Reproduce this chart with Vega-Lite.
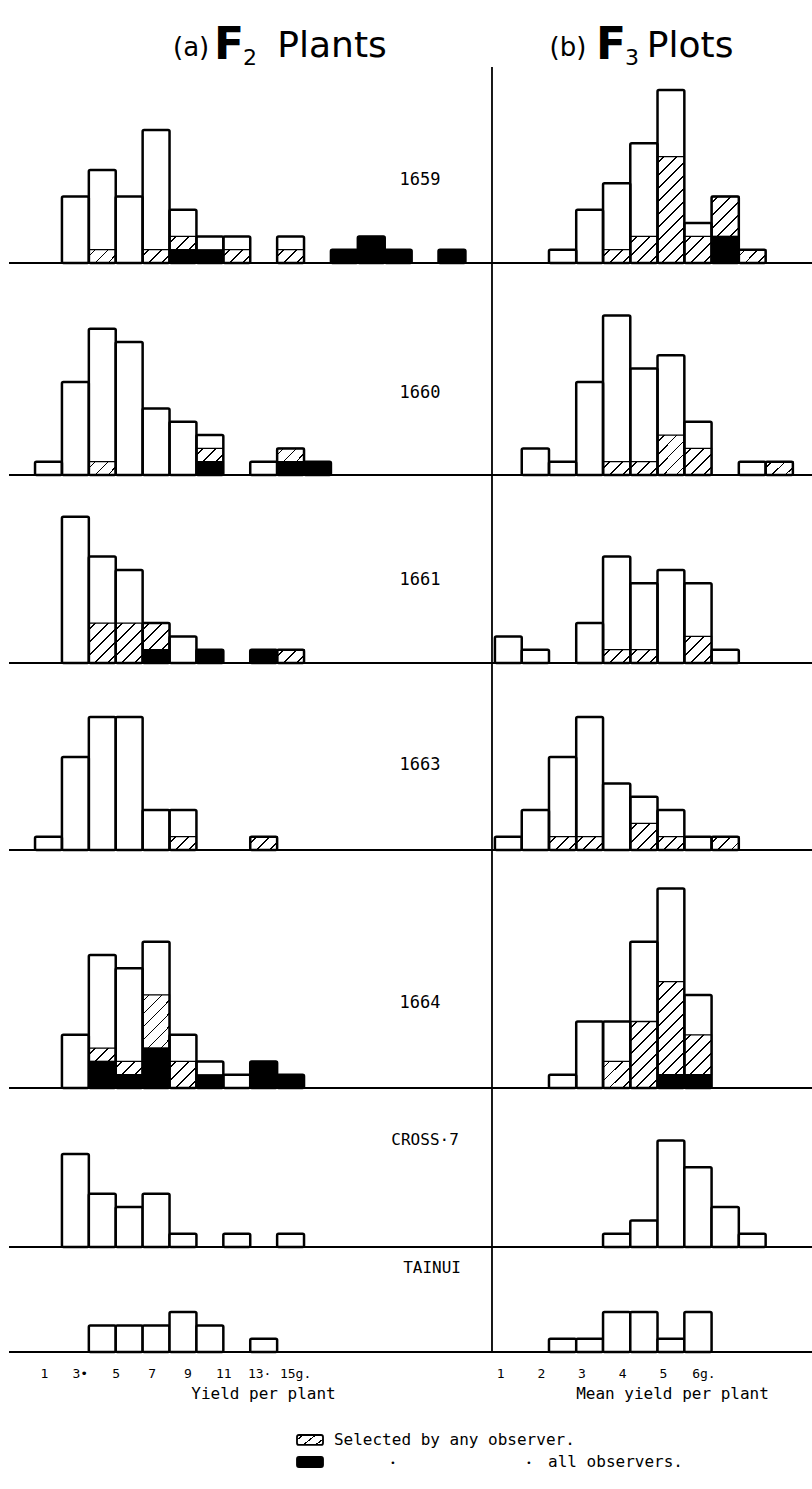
{
"$schema":"https://vega.github.io/schema/vega-lite/v6.json",
"background":"white",
"padding":{"left":8,"top":0,"right":0,"bottom":0},
"bounds":"flush",
"spacing":0,
"config":{"view":{"stroke":null},"concat":{"spacing":0},"font":"DejaVu Sans"},
"datasets":{"bars":[
{"p":"a","row":"1659","lo":2.0,"hi":3.5,"count":5,"anySel":0,"allSel":0},
{"p":"a","row":"1659","lo":3.5,"hi":5.0,"count":7,"anySel":1,"allSel":0},
{"p":"a","row":"1659","lo":5.0,"hi":6.5,"count":5,"anySel":0,"allSel":0},
{"p":"a","row":"1659","lo":6.5,"hi":8.0,"count":10,"anySel":1,"allSel":0},
{"p":"a","row":"1659","lo":8.0,"hi":9.5,"count":4,"anySel":2,"allSel":1},
{"p":"a","row":"1659","lo":9.5,"hi":11.0,"count":2,"anySel":1,"allSel":1},
{"p":"a","row":"1659","lo":11.0,"hi":12.5,"count":2,"anySel":1,"allSel":0},
{"p":"a","row":"1659","lo":14.0,"hi":15.5,"count":2,"anySel":1,"allSel":0},
{"p":"a","row":"1659","lo":17.0,"hi":18.5,"count":1,"anySel":1,"allSel":1},
{"p":"a","row":"1659","lo":18.5,"hi":20.0,"count":2,"anySel":2,"allSel":2},
{"p":"a","row":"1659","lo":20.0,"hi":21.5,"count":1,"anySel":1,"allSel":1},
{"p":"a","row":"1659","lo":23.0,"hi":24.5,"count":1,"anySel":1,"allSel":1},
{"p":"a","row":"1660","lo":0.5,"hi":2.0,"count":1,"anySel":0,"allSel":0},
{"p":"a","row":"1660","lo":2.0,"hi":3.5,"count":7,"anySel":0,"allSel":0},
{"p":"a","row":"1660","lo":3.5,"hi":5.0,"count":11,"anySel":1,"allSel":0},
{"p":"a","row":"1660","lo":5.0,"hi":6.5,"count":10,"anySel":0,"allSel":0},
{"p":"a","row":"1660","lo":6.5,"hi":8.0,"count":5,"anySel":0,"allSel":0},
{"p":"a","row":"1660","lo":8.0,"hi":9.5,"count":4,"anySel":0,"allSel":0},
{"p":"a","row":"1660","lo":9.5,"hi":11.0,"count":3,"anySel":2,"allSel":1},
{"p":"a","row":"1660","lo":12.5,"hi":14.0,"count":1,"anySel":0,"allSel":0},
{"p":"a","row":"1660","lo":14.0,"hi":15.5,"count":2,"anySel":2,"allSel":1},
{"p":"a","row":"1660","lo":15.5,"hi":17.0,"count":1,"anySel":1,"allSel":1},
{"p":"a","row":"1661","lo":2.0,"hi":3.5,"count":11,"anySel":0,"allSel":0},
{"p":"a","row":"1661","lo":3.5,"hi":5.0,"count":8,"anySel":3,"allSel":0},
{"p":"a","row":"1661","lo":5.0,"hi":6.5,"count":7,"anySel":3,"allSel":0},
{"p":"a","row":"1661","lo":6.5,"hi":8.0,"count":3,"anySel":3,"allSel":1},
{"p":"a","row":"1661","lo":8.0,"hi":9.5,"count":2,"anySel":0,"allSel":0},
{"p":"a","row":"1661","lo":9.5,"hi":11.0,"count":1,"anySel":1,"allSel":1},
{"p":"a","row":"1661","lo":12.5,"hi":14.0,"count":1,"anySel":1,"allSel":1},
{"p":"a","row":"1661","lo":14.0,"hi":15.5,"count":1,"anySel":1,"allSel":0},
{"p":"a","row":"1663","lo":0.5,"hi":2.0,"count":1,"anySel":0,"allSel":0},
{"p":"a","row":"1663","lo":2.0,"hi":3.5,"count":7,"anySel":0,"allSel":0},
{"p":"a","row":"1663","lo":3.5,"hi":5.0,"count":10,"anySel":0,"allSel":0},
{"p":"a","row":"1663","lo":5.0,"hi":6.5,"count":10,"anySel":0,"allSel":0},
{"p":"a","row":"1663","lo":6.5,"hi":8.0,"count":3,"anySel":0,"allSel":0},
{"p":"a","row":"1663","lo":8.0,"hi":9.5,"count":3,"anySel":1,"allSel":0},
{"p":"a","row":"1663","lo":12.5,"hi":14.0,"count":1,"anySel":1,"allSel":0},
{"p":"a","row":"1664","lo":2.0,"hi":3.5,"count":4,"anySel":0,"allSel":0},
{"p":"a","row":"1664","lo":3.5,"hi":5.0,"count":10,"anySel":3,"allSel":2},
{"p":"a","row":"1664","lo":5.0,"hi":6.5,"count":9,"anySel":2,"allSel":1},
{"p":"a","row":"1664","lo":6.5,"hi":8.0,"count":11,"anySel":7,"allSel":3},
{"p":"a","row":"1664","lo":8.0,"hi":9.5,"count":4,"anySel":2,"allSel":0},
{"p":"a","row":"1664","lo":9.5,"hi":11.0,"count":2,"anySel":1,"allSel":1},
{"p":"a","row":"1664","lo":11.0,"hi":12.5,"count":1,"anySel":0,"allSel":0},
{"p":"a","row":"1664","lo":12.5,"hi":14.0,"count":2,"anySel":2,"allSel":2},
{"p":"a","row":"1664","lo":14.0,"hi":15.5,"count":1,"anySel":1,"allSel":1},
{"p":"a","row":"CROSS-7","lo":2.0,"hi":3.5,"count":7,"anySel":0,"allSel":0},
{"p":"a","row":"CROSS-7","lo":3.5,"hi":5.0,"count":4,"anySel":0,"allSel":0},
{"p":"a","row":"CROSS-7","lo":5.0,"hi":6.5,"count":3,"anySel":0,"allSel":0},
{"p":"a","row":"CROSS-7","lo":6.5,"hi":8.0,"count":4,"anySel":0,"allSel":0},
{"p":"a","row":"CROSS-7","lo":8.0,"hi":9.5,"count":1,"anySel":0,"allSel":0},
{"p":"a","row":"CROSS-7","lo":11.0,"hi":12.5,"count":1,"anySel":0,"allSel":0},
{"p":"a","row":"CROSS-7","lo":14.0,"hi":15.5,"count":1,"anySel":0,"allSel":0},
{"p":"a","row":"TAINUI","lo":3.5,"hi":5.0,"count":2,"anySel":0,"allSel":0},
{"p":"a","row":"TAINUI","lo":5.0,"hi":6.5,"count":2,"anySel":0,"allSel":0},
{"p":"a","row":"TAINUI","lo":6.5,"hi":8.0,"count":2,"anySel":0,"allSel":0},
{"p":"a","row":"TAINUI","lo":8.0,"hi":9.5,"count":3,"anySel":0,"allSel":0},
{"p":"a","row":"TAINUI","lo":9.5,"hi":11.0,"count":2,"anySel":0,"allSel":0},
{"p":"a","row":"TAINUI","lo":12.5,"hi":14.0,"count":1,"anySel":0,"allSel":0},
{"p":"b","row":"1659","lo":2.2,"hi":2.87,"count":1,"anySel":0,"allSel":0},
{"p":"b","row":"1659","lo":2.87,"hi":3.53,"count":4,"anySel":0,"allSel":0},
{"p":"b","row":"1659","lo":3.53,"hi":4.2,"count":6,"anySel":1,"allSel":0},
{"p":"b","row":"1659","lo":4.2,"hi":4.87,"count":9,"anySel":2,"allSel":0},
{"p":"b","row":"1659","lo":4.87,"hi":5.53,"count":13,"anySel":8,"allSel":0},
{"p":"b","row":"1659","lo":5.53,"hi":6.2,"count":3,"anySel":2,"allSel":0},
{"p":"b","row":"1659","lo":6.2,"hi":6.87,"count":5,"anySel":5,"allSel":2},
{"p":"b","row":"1659","lo":6.87,"hi":7.53,"count":1,"anySel":1,"allSel":0},
{"p":"b","row":"1660","lo":1.53,"hi":2.2,"count":2,"anySel":0,"allSel":0},
{"p":"b","row":"1660","lo":2.2,"hi":2.87,"count":1,"anySel":0,"allSel":0},
{"p":"b","row":"1660","lo":2.87,"hi":3.53,"count":7,"anySel":0,"allSel":0},
{"p":"b","row":"1660","lo":3.53,"hi":4.2,"count":12,"anySel":1,"allSel":0},
{"p":"b","row":"1660","lo":4.2,"hi":4.87,"count":8,"anySel":1,"allSel":0},
{"p":"b","row":"1660","lo":4.87,"hi":5.53,"count":9,"anySel":3,"allSel":0},
{"p":"b","row":"1660","lo":5.53,"hi":6.2,"count":4,"anySel":2,"allSel":0},
{"p":"b","row":"1660","lo":6.87,"hi":7.53,"count":1,"anySel":0,"allSel":0},
{"p":"b","row":"1660","lo":7.53,"hi":8.2,"count":1,"anySel":1,"allSel":0},
{"p":"b","row":"1661","lo":0.87,"hi":1.53,"count":2,"anySel":0,"allSel":0},
{"p":"b","row":"1661","lo":1.53,"hi":2.2,"count":1,"anySel":0,"allSel":0},
{"p":"b","row":"1661","lo":2.87,"hi":3.53,"count":3,"anySel":0,"allSel":0},
{"p":"b","row":"1661","lo":3.53,"hi":4.2,"count":8,"anySel":1,"allSel":0},
{"p":"b","row":"1661","lo":4.2,"hi":4.87,"count":6,"anySel":1,"allSel":0},
{"p":"b","row":"1661","lo":4.87,"hi":5.53,"count":7,"anySel":0,"allSel":0},
{"p":"b","row":"1661","lo":5.53,"hi":6.2,"count":6,"anySel":2,"allSel":0},
{"p":"b","row":"1661","lo":6.2,"hi":6.87,"count":1,"anySel":0,"allSel":0},
{"p":"b","row":"1663","lo":0.87,"hi":1.53,"count":1,"anySel":0,"allSel":0},
{"p":"b","row":"1663","lo":1.53,"hi":2.2,"count":3,"anySel":0,"allSel":0},
{"p":"b","row":"1663","lo":2.2,"hi":2.87,"count":7,"anySel":1,"allSel":0},
{"p":"b","row":"1663","lo":2.87,"hi":3.53,"count":10,"anySel":1,"allSel":0},
{"p":"b","row":"1663","lo":3.53,"hi":4.2,"count":5,"anySel":0,"allSel":0},
{"p":"b","row":"1663","lo":4.2,"hi":4.87,"count":4,"anySel":2,"allSel":0},
{"p":"b","row":"1663","lo":4.87,"hi":5.53,"count":3,"anySel":1,"allSel":0},
{"p":"b","row":"1663","lo":5.53,"hi":6.2,"count":1,"anySel":0,"allSel":0},
{"p":"b","row":"1663","lo":6.2,"hi":6.87,"count":1,"anySel":1,"allSel":0},
{"p":"b","row":"1664","lo":2.2,"hi":2.87,"count":1,"anySel":0,"allSel":0},
{"p":"b","row":"1664","lo":2.87,"hi":3.53,"count":5,"anySel":0,"allSel":0},
{"p":"b","row":"1664","lo":3.53,"hi":4.2,"count":5,"anySel":2,"allSel":0},
{"p":"b","row":"1664","lo":4.2,"hi":4.87,"count":11,"anySel":5,"allSel":0},
{"p":"b","row":"1664","lo":4.87,"hi":5.53,"count":15,"anySel":8,"allSel":1},
{"p":"b","row":"1664","lo":5.53,"hi":6.2,"count":7,"anySel":4,"allSel":1},
{"p":"b","row":"CROSS-7","lo":3.53,"hi":4.2,"count":1,"anySel":0,"allSel":0},
{"p":"b","row":"CROSS-7","lo":4.2,"hi":4.87,"count":2,"anySel":0,"allSel":0},
{"p":"b","row":"CROSS-7","lo":4.87,"hi":5.53,"count":8,"anySel":0,"allSel":0},
{"p":"b","row":"CROSS-7","lo":5.53,"hi":6.2,"count":6,"anySel":0,"allSel":0},
{"p":"b","row":"CROSS-7","lo":6.2,"hi":6.87,"count":3,"anySel":0,"allSel":0},
{"p":"b","row":"CROSS-7","lo":6.87,"hi":7.53,"count":1,"anySel":0,"allSel":0},
{"p":"b","row":"TAINUI","lo":2.2,"hi":2.87,"count":1,"anySel":0,"allSel":0},
{"p":"b","row":"TAINUI","lo":2.87,"hi":3.53,"count":1,"anySel":0,"allSel":0},
{"p":"b","row":"TAINUI","lo":3.53,"hi":4.2,"count":3,"anySel":0,"allSel":0},
{"p":"b","row":"TAINUI","lo":4.2,"hi":4.87,"count":3,"anySel":0,"allSel":0},
{"p":"b","row":"TAINUI","lo":4.87,"hi":5.53,"count":1,"anySel":0,"allSel":0},
{"p":"b","row":"TAINUI","lo":5.53,"hi":6.2,"count":3,"anySel":0,"allSel":0}
]},
"vconcat":[
{"width":804,"height":67,"data":{"values":[{}]},"layer":[
  {"mark":{"type":"text","text":"(a)","fontSize":26,"font":"DejaVu Sans","align":"center","baseline":"alphabetic","color":"black"},"encoding":{"x":{"datum":6.5,"type":"quantitative","scale":{"domain":[-0.27,29.618],"nice":false,"zero":false},"axis":null},"y":{"datum":0.83,"type":"quantitative","scale":{"domain":[0,5.04],"nice":false},"axis":null}}},
  {"mark":{"type":"text","text":"F","fontSize":44,"fontWeight":"bold","font":"DejaVu Sans","align":"center","baseline":"alphabetic","color":"black"},"encoding":{"x":{"datum":7.91,"type":"quantitative","axis":null},"y":{"datum":0.6,"type":"quantitative","axis":null}}},
  {"mark":{"type":"text","text":"2","fontSize":22,"font":"DejaVu Sans","align":"center","baseline":"alphabetic","color":"black"},"encoding":{"x":{"datum":8.69,"type":"quantitative","axis":null},"y":{"datum":0.12,"type":"quantitative","axis":null}}},
  {"mark":{"type":"text","text":"Plants","fontSize":36,"font":"DejaVu Sans","align":"center","baseline":"alphabetic","color":"black"},"encoding":{"x":{"datum":11.74,"type":"quantitative","axis":null},"y":{"datum":0.75,"type":"quantitative","axis":null}}},
  {"mark":{"type":"text","text":"(b)","fontSize":26,"font":"DejaVu Sans","align":"center","baseline":"alphabetic","color":"black"},"encoding":{"x":{"datum":20.51,"type":"quantitative","axis":null},"y":{"datum":0.83,"type":"quantitative","axis":null}}},
  {"mark":{"type":"text","text":"F","fontSize":44,"fontWeight":"bold","font":"DejaVu Sans","align":"center","baseline":"alphabetic","color":"black"},"encoding":{"x":{"datum":22.11,"type":"quantitative","axis":null},"y":{"datum":0.6,"type":"quantitative","axis":null}}},
  {"mark":{"type":"text","text":"3","fontSize":22,"font":"DejaVu Sans","align":"center","baseline":"alphabetic","color":"black"},"encoding":{"x":{"datum":22.89,"type":"quantitative","axis":null},"y":{"datum":0.12,"type":"quantitative","axis":null}}},
  {"mark":{"type":"text","text":"Plots","fontSize":36,"font":"DejaVu Sans","align":"center","baseline":"alphabetic","color":"black"},"encoding":{"x":{"datum":25.05,"type":"quantitative","axis":null},"y":{"datum":0.75,"type":"quantitative","axis":null}}}
]},
{"width":804,"height":196,"data":{"name":"bars"},"transform":[{"filter":"datum.row=='1659'"}],"resolve":{"scale":{"x":"independent"}},"layer":[
 {"transform":[{"filter":"datum.p=='a'"}],"mark":{"type":"bar","fill":"white","strokeWidth":0},"encoding":{"x":{"field":"lo","type":"quantitative","scale":{"domain":[-0.952,43.882],"nice":false,"zero":false},"axis":null},"x2":{"field":"hi"},"y":{"field":"count","type":"quantitative","scale":{"domain":[0,14.737],"nice":false},"axis":null},"y2":{"datum":0}}},
 {"transform":[{"filter":"datum.p=='b'"}],"mark":{"type":"bar","fill":"white","strokeWidth":0},"encoding":{"x":{"field":"lo","type":"quantitative","scale":{"domain":[-11.084,8.695],"nice":false,"zero":false},"axis":null},"x2":{"field":"hi"},"y":{"field":"count","type":"quantitative","axis":null},"y2":{"datum":0}}},
 {"transform":[{"filter":"datum.p=='a' && datum.anySel-datum.allSel==1"}],"mark":{"type":"bar","stroke":"black","strokeWidth":1.3,"fill":{"gradient":"linear","x1":0,"y1":0,"x2":1.2011,"y2":0.5917,"stops":[{"offset":0,"color":"#fff"},{"offset":0.1377,"color":"#fff"},{"offset":0.1377,"color":"#000"},{"offset":0.1849,"color":"#000"},{"offset":0.1849,"color":"#fff"},{"offset":0.4603,"color":"#fff"},{"offset":0.4603,"color":"#000"},{"offset":0.5075,"color":"#000"},{"offset":0.5075,"color":"#fff"},{"offset":0.7829,"color":"#fff"},{"offset":0.7829,"color":"#000"},{"offset":0.8301,"color":"#000"},{"offset":0.8301,"color":"#fff"},{"offset":1,"color":"#fff"}]}},"encoding":{"x":{"field":"lo","type":"quantitative","scale":{"domain":[-0.952,43.882],"nice":false,"zero":false},"axis":null},"x2":{"field":"hi"},"y":{"field":"anySel","type":"quantitative","axis":null},"y2":{"field":"allSel"}}},
 {"transform":[{"filter":"datum.p=='b' && datum.anySel-datum.allSel==1"}],"mark":{"type":"bar","stroke":"black","strokeWidth":1.3,"fill":{"gradient":"linear","x1":0,"y1":0,"x2":1.2011,"y2":0.5917,"stops":[{"offset":0,"color":"#fff"},{"offset":0.1377,"color":"#fff"},{"offset":0.1377,"color":"#000"},{"offset":0.1849,"color":"#000"},{"offset":0.1849,"color":"#fff"},{"offset":0.4603,"color":"#fff"},{"offset":0.4603,"color":"#000"},{"offset":0.5075,"color":"#000"},{"offset":0.5075,"color":"#fff"},{"offset":0.7829,"color":"#fff"},{"offset":0.7829,"color":"#000"},{"offset":0.8301,"color":"#000"},{"offset":0.8301,"color":"#fff"},{"offset":1,"color":"#fff"}]}},"encoding":{"x":{"field":"lo","type":"quantitative","scale":{"domain":[-11.084,8.695],"nice":false,"zero":false},"axis":null},"x2":{"field":"hi"},"y":{"field":"anySel","type":"quantitative","axis":null},"y2":{"field":"allSel"}}},
 {"transform":[{"filter":"datum.p=='b' && datum.anySel-datum.allSel==2"}],"mark":{"type":"bar","stroke":"black","strokeWidth":1.3,"fill":{"gradient":"linear","x1":0,"y1":0,"x2":1.0074,"y2":0.9925,"stops":[{"offset":0,"color":"#fff"},{"offset":0.1036,"color":"#fff"},{"offset":0.1036,"color":"#000"},{"offset":0.139,"color":"#000"},{"offset":0.139,"color":"#fff"},{"offset":0.3461,"color":"#fff"},{"offset":0.3461,"color":"#000"},{"offset":0.3815,"color":"#000"},{"offset":0.3815,"color":"#fff"},{"offset":0.5886,"color":"#fff"},{"offset":0.5886,"color":"#000"},{"offset":0.624,"color":"#000"},{"offset":0.624,"color":"#fff"},{"offset":0.8312,"color":"#fff"},{"offset":0.8312,"color":"#000"},{"offset":0.8666,"color":"#000"},{"offset":0.8666,"color":"#fff"},{"offset":1,"color":"#fff"}]}},"encoding":{"x":{"field":"lo","type":"quantitative","scale":{"domain":[-11.084,8.695],"nice":false,"zero":false},"axis":null},"x2":{"field":"hi"},"y":{"field":"anySel","type":"quantitative","axis":null},"y2":{"field":"allSel"}}},
 {"transform":[{"filter":"datum.p=='b' && datum.anySel-datum.allSel==3"}],"mark":{"type":"bar","stroke":"black","strokeWidth":1.3,"fill":{"gradient":"linear","x1":0,"y1":0,"x2":0.7782,"y2":1.15,"stops":[{"offset":0,"color":"#fff"},{"offset":0.083,"color":"#fff"},{"offset":0.083,"color":"#000"},{"offset":0.1114,"color":"#000"},{"offset":0.1114,"color":"#fff"},{"offset":0.2773,"color":"#fff"},{"offset":0.2773,"color":"#000"},{"offset":0.3057,"color":"#000"},{"offset":0.3057,"color":"#fff"},{"offset":0.4716,"color":"#fff"},{"offset":0.4716,"color":"#000"},{"offset":0.5,"color":"#000"},{"offset":0.5,"color":"#fff"},{"offset":0.6659,"color":"#fff"},{"offset":0.6659,"color":"#000"},{"offset":0.6943,"color":"#000"},{"offset":0.6943,"color":"#fff"},{"offset":0.8602,"color":"#fff"},{"offset":0.8602,"color":"#000"},{"offset":0.8886,"color":"#000"},{"offset":0.8886,"color":"#fff"},{"offset":1,"color":"#fff"}]}},"encoding":{"x":{"field":"lo","type":"quantitative","scale":{"domain":[-11.084,8.695],"nice":false,"zero":false},"axis":null},"x2":{"field":"hi"},"y":{"field":"anySel","type":"quantitative","axis":null},"y2":{"field":"allSel"}}},
 {"transform":[{"filter":"datum.p=='b' && datum.anySel-datum.allSel==8"}],"mark":{"type":"bar","stroke":"black","strokeWidth":1.3,"fill":{"gradient":"linear","x1":0,"y1":0,"x2":0.2989,"y2":1.1779,"stops":[{"offset":0,"color":"#fff"},{"offset":0.0416,"color":"#fff"},{"offset":0.0416,"color":"#000"},{"offset":0.0558,"color":"#000"},{"offset":0.0558,"color":"#fff"},{"offset":0.1391,"color":"#fff"},{"offset":0.1391,"color":"#000"},{"offset":0.1533,"color":"#000"},{"offset":0.1533,"color":"#fff"},{"offset":0.2366,"color":"#fff"},{"offset":0.2366,"color":"#000"},{"offset":0.2508,"color":"#000"},{"offset":0.2508,"color":"#fff"},{"offset":0.3341,"color":"#fff"},{"offset":0.3341,"color":"#000"},{"offset":0.3483,"color":"#000"},{"offset":0.3483,"color":"#fff"},{"offset":0.4316,"color":"#fff"},{"offset":0.4316,"color":"#000"},{"offset":0.4458,"color":"#000"},{"offset":0.4458,"color":"#fff"},{"offset":0.5291,"color":"#fff"},{"offset":0.5291,"color":"#000"},{"offset":0.5433,"color":"#000"},{"offset":0.5433,"color":"#fff"},{"offset":0.6266,"color":"#fff"},{"offset":0.6266,"color":"#000"},{"offset":0.6408,"color":"#000"},{"offset":0.6408,"color":"#fff"},{"offset":0.7241,"color":"#fff"},{"offset":0.7241,"color":"#000"},{"offset":0.7383,"color":"#000"},{"offset":0.7383,"color":"#fff"},{"offset":0.8216,"color":"#fff"},{"offset":0.8216,"color":"#000"},{"offset":0.8358,"color":"#000"},{"offset":0.8358,"color":"#fff"},{"offset":0.9191,"color":"#fff"},{"offset":0.9191,"color":"#000"},{"offset":0.9333,"color":"#000"},{"offset":0.9333,"color":"#fff"},{"offset":1,"color":"#fff"}]}},"encoding":{"x":{"field":"lo","type":"quantitative","scale":{"domain":[-11.084,8.695],"nice":false,"zero":false},"axis":null},"x2":{"field":"hi"},"y":{"field":"anySel","type":"quantitative","axis":null},"y2":{"field":"allSel"}}},
 {"transform":[{"filter":"datum.p=='a' && datum.allSel>0"}],"mark":{"type":"bar","fill":"black","stroke":"black","strokeWidth":1},"encoding":{"x":{"field":"lo","type":"quantitative","scale":{"domain":[-0.952,43.882],"nice":false,"zero":false},"axis":null},"x2":{"field":"hi"},"y":{"field":"allSel","type":"quantitative","axis":null},"y2":{"datum":0}}},
 {"transform":[{"filter":"datum.p=='b' && datum.allSel>0"}],"mark":{"type":"bar","fill":"black","stroke":"black","strokeWidth":1},"encoding":{"x":{"field":"lo","type":"quantitative","scale":{"domain":[-11.084,8.695],"nice":false,"zero":false},"axis":null},"x2":{"field":"hi"},"y":{"field":"allSel","type":"quantitative","axis":null},"y2":{"datum":0}}},
 {"transform":[{"filter":"datum.p=='a'"}],"mark":{"type":"bar","fill":"transparent","stroke":"black","strokeWidth":2.5,"cornerRadius":1.5},"encoding":{"x":{"field":"lo","type":"quantitative","scale":{"domain":[-0.952,43.882],"nice":false,"zero":false},"axis":null},"x2":{"field":"hi"},"y":{"field":"count","type":"quantitative","axis":null},"y2":{"datum":0}}},
 {"transform":[{"filter":"datum.p=='b'"}],"mark":{"type":"bar","fill":"transparent","stroke":"black","strokeWidth":2.5,"cornerRadius":1.5},"encoding":{"x":{"field":"lo","type":"quantitative","scale":{"domain":[-11.084,8.695],"nice":false,"zero":false},"axis":null},"x2":{"field":"hi"},"y":{"field":"count","type":"quantitative","axis":null},"y2":{"datum":0}}},
 {"data":{"values":[{"row":"1659"}]},"mark":{"type":"rule","color":"black","strokeWidth":2},"encoding":{"y":{"datum":0,"axis":null}}},
 {"data":{"values":[{"row":"1659"}]},"mark":{"type":"rule","color":"black","strokeWidth":1.8},"encoding":{"x":{"datum":0.798,"type":"quantitative","scale":{"domain":[-11.084,8.695],"nice":false,"zero":false},"axis":null}}},
 {"data":{"values":[{"row":"1659","label":"1659"}]},"mark":{"type":"text","color":"black","fontSize":17,"font":"DejaVu Sans Mono"},"encoding":{"x":{"datum":21.97,"type":"quantitative","scale":{"domain":[-0.952,43.882],"nice":false,"zero":false},"axis":null},"y":{"datum":6.24,"axis":null},"text":{"field":"label"}}}
]},
{"width":804,"height":212,"data":{"name":"bars"},"transform":[{"filter":"datum.row=='1660'"}],"resolve":{"scale":{"x":"independent"}},"layer":[
 {"transform":[{"filter":"datum.p=='a'"}],"mark":{"type":"bar","fill":"white","strokeWidth":0},"encoding":{"x":{"field":"lo","type":"quantitative","scale":{"domain":[-0.952,43.882],"nice":false,"zero":false},"axis":null},"x2":{"field":"hi"},"y":{"field":"count","type":"quantitative","scale":{"domain":[0,15.94],"nice":false},"axis":null},"y2":{"datum":0}}},
 {"transform":[{"filter":"datum.p=='b'"}],"mark":{"type":"bar","fill":"white","strokeWidth":0},"encoding":{"x":{"field":"lo","type":"quantitative","scale":{"domain":[-11.084,8.695],"nice":false,"zero":false},"axis":null},"x2":{"field":"hi"},"y":{"field":"count","type":"quantitative","axis":null},"y2":{"datum":0}}},
 {"transform":[{"filter":"datum.p=='a' && datum.anySel-datum.allSel==1"}],"mark":{"type":"bar","stroke":"black","strokeWidth":1.3,"fill":{"gradient":"linear","x1":0,"y1":0,"x2":1.2011,"y2":0.5917,"stops":[{"offset":0,"color":"#fff"},{"offset":0.1377,"color":"#fff"},{"offset":0.1377,"color":"#000"},{"offset":0.1849,"color":"#000"},{"offset":0.1849,"color":"#fff"},{"offset":0.4603,"color":"#fff"},{"offset":0.4603,"color":"#000"},{"offset":0.5075,"color":"#000"},{"offset":0.5075,"color":"#fff"},{"offset":0.7829,"color":"#fff"},{"offset":0.7829,"color":"#000"},{"offset":0.8301,"color":"#000"},{"offset":0.8301,"color":"#fff"},{"offset":1,"color":"#fff"}]}},"encoding":{"x":{"field":"lo","type":"quantitative","scale":{"domain":[-0.952,43.882],"nice":false,"zero":false},"axis":null},"x2":{"field":"hi"},"y":{"field":"anySel","type":"quantitative","axis":null},"y2":{"field":"allSel"}}},
 {"transform":[{"filter":"datum.p=='b' && datum.anySel-datum.allSel==1"}],"mark":{"type":"bar","stroke":"black","strokeWidth":1.3,"fill":{"gradient":"linear","x1":0,"y1":0,"x2":1.2011,"y2":0.5917,"stops":[{"offset":0,"color":"#fff"},{"offset":0.1377,"color":"#fff"},{"offset":0.1377,"color":"#000"},{"offset":0.1849,"color":"#000"},{"offset":0.1849,"color":"#fff"},{"offset":0.4603,"color":"#fff"},{"offset":0.4603,"color":"#000"},{"offset":0.5075,"color":"#000"},{"offset":0.5075,"color":"#fff"},{"offset":0.7829,"color":"#fff"},{"offset":0.7829,"color":"#000"},{"offset":0.8301,"color":"#000"},{"offset":0.8301,"color":"#fff"},{"offset":1,"color":"#fff"}]}},"encoding":{"x":{"field":"lo","type":"quantitative","scale":{"domain":[-11.084,8.695],"nice":false,"zero":false},"axis":null},"x2":{"field":"hi"},"y":{"field":"anySel","type":"quantitative","axis":null},"y2":{"field":"allSel"}}},
 {"transform":[{"filter":"datum.p=='b' && datum.anySel-datum.allSel==2"}],"mark":{"type":"bar","stroke":"black","strokeWidth":1.3,"fill":{"gradient":"linear","x1":0,"y1":0,"x2":1.0074,"y2":0.9925,"stops":[{"offset":0,"color":"#fff"},{"offset":0.1036,"color":"#fff"},{"offset":0.1036,"color":"#000"},{"offset":0.139,"color":"#000"},{"offset":0.139,"color":"#fff"},{"offset":0.3461,"color":"#fff"},{"offset":0.3461,"color":"#000"},{"offset":0.3815,"color":"#000"},{"offset":0.3815,"color":"#fff"},{"offset":0.5886,"color":"#fff"},{"offset":0.5886,"color":"#000"},{"offset":0.624,"color":"#000"},{"offset":0.624,"color":"#fff"},{"offset":0.8312,"color":"#fff"},{"offset":0.8312,"color":"#000"},{"offset":0.8666,"color":"#000"},{"offset":0.8666,"color":"#fff"},{"offset":1,"color":"#fff"}]}},"encoding":{"x":{"field":"lo","type":"quantitative","scale":{"domain":[-11.084,8.695],"nice":false,"zero":false},"axis":null},"x2":{"field":"hi"},"y":{"field":"anySel","type":"quantitative","axis":null},"y2":{"field":"allSel"}}},
 {"transform":[{"filter":"datum.p=='b' && datum.anySel-datum.allSel==3"}],"mark":{"type":"bar","stroke":"black","strokeWidth":1.3,"fill":{"gradient":"linear","x1":0,"y1":0,"x2":0.7782,"y2":1.15,"stops":[{"offset":0,"color":"#fff"},{"offset":0.083,"color":"#fff"},{"offset":0.083,"color":"#000"},{"offset":0.1114,"color":"#000"},{"offset":0.1114,"color":"#fff"},{"offset":0.2773,"color":"#fff"},{"offset":0.2773,"color":"#000"},{"offset":0.3057,"color":"#000"},{"offset":0.3057,"color":"#fff"},{"offset":0.4716,"color":"#fff"},{"offset":0.4716,"color":"#000"},{"offset":0.5,"color":"#000"},{"offset":0.5,"color":"#fff"},{"offset":0.6659,"color":"#fff"},{"offset":0.6659,"color":"#000"},{"offset":0.6943,"color":"#000"},{"offset":0.6943,"color":"#fff"},{"offset":0.8602,"color":"#fff"},{"offset":0.8602,"color":"#000"},{"offset":0.8886,"color":"#000"},{"offset":0.8886,"color":"#fff"},{"offset":1,"color":"#fff"}]}},"encoding":{"x":{"field":"lo","type":"quantitative","scale":{"domain":[-11.084,8.695],"nice":false,"zero":false},"axis":null},"x2":{"field":"hi"},"y":{"field":"anySel","type":"quantitative","axis":null},"y2":{"field":"allSel"}}},
 {"transform":[{"filter":"datum.p=='a' && datum.allSel>0"}],"mark":{"type":"bar","fill":"black","stroke":"black","strokeWidth":1},"encoding":{"x":{"field":"lo","type":"quantitative","scale":{"domain":[-0.952,43.882],"nice":false,"zero":false},"axis":null},"x2":{"field":"hi"},"y":{"field":"allSel","type":"quantitative","axis":null},"y2":{"datum":0}}},
 {"transform":[{"filter":"datum.p=='a'"}],"mark":{"type":"bar","fill":"transparent","stroke":"black","strokeWidth":2.5,"cornerRadius":1.5},"encoding":{"x":{"field":"lo","type":"quantitative","scale":{"domain":[-0.952,43.882],"nice":false,"zero":false},"axis":null},"x2":{"field":"hi"},"y":{"field":"count","type":"quantitative","axis":null},"y2":{"datum":0}}},
 {"transform":[{"filter":"datum.p=='b'"}],"mark":{"type":"bar","fill":"transparent","stroke":"black","strokeWidth":2.5,"cornerRadius":1.5},"encoding":{"x":{"field":"lo","type":"quantitative","scale":{"domain":[-11.084,8.695],"nice":false,"zero":false},"axis":null},"x2":{"field":"hi"},"y":{"field":"count","type":"quantitative","axis":null},"y2":{"datum":0}}},
 {"data":{"values":[{"row":"1660"}]},"mark":{"type":"rule","color":"black","strokeWidth":2},"encoding":{"y":{"datum":0,"axis":null}}},
 {"data":{"values":[{"row":"1660"}]},"mark":{"type":"rule","color":"black","strokeWidth":1.8},"encoding":{"x":{"datum":0.798,"type":"quantitative","scale":{"domain":[-11.084,8.695],"nice":false,"zero":false},"axis":null}}},
 {"data":{"values":[{"row":"1660","label":"1660"}]},"mark":{"type":"text","color":"black","fontSize":17,"font":"DejaVu Sans Mono"},"encoding":{"x":{"datum":21.97,"type":"quantitative","scale":{"domain":[-0.952,43.882],"nice":false,"zero":false},"axis":null},"y":{"datum":6.17,"axis":null},"text":{"field":"label"}}}
]},
{"width":804,"height":188,"data":{"name":"bars"},"transform":[{"filter":"datum.row=='1661'"}],"resolve":{"scale":{"x":"independent"}},"layer":[
 {"transform":[{"filter":"datum.p=='a'"}],"mark":{"type":"bar","fill":"white","strokeWidth":0},"encoding":{"x":{"field":"lo","type":"quantitative","scale":{"domain":[-0.952,43.882],"nice":false,"zero":false},"axis":null},"x2":{"field":"hi"},"y":{"field":"count","type":"quantitative","scale":{"domain":[0,14.135],"nice":false},"axis":null},"y2":{"datum":0}}},
 {"transform":[{"filter":"datum.p=='b'"}],"mark":{"type":"bar","fill":"white","strokeWidth":0},"encoding":{"x":{"field":"lo","type":"quantitative","scale":{"domain":[-11.084,8.695],"nice":false,"zero":false},"axis":null},"x2":{"field":"hi"},"y":{"field":"count","type":"quantitative","axis":null},"y2":{"datum":0}}},
 {"transform":[{"filter":"datum.p=='a' && datum.anySel-datum.allSel==1"}],"mark":{"type":"bar","stroke":"black","strokeWidth":1.3,"fill":{"gradient":"linear","x1":0,"y1":0,"x2":1.2011,"y2":0.5917,"stops":[{"offset":0,"color":"#fff"},{"offset":0.1377,"color":"#fff"},{"offset":0.1377,"color":"#000"},{"offset":0.1849,"color":"#000"},{"offset":0.1849,"color":"#fff"},{"offset":0.4603,"color":"#fff"},{"offset":0.4603,"color":"#000"},{"offset":0.5075,"color":"#000"},{"offset":0.5075,"color":"#fff"},{"offset":0.7829,"color":"#fff"},{"offset":0.7829,"color":"#000"},{"offset":0.8301,"color":"#000"},{"offset":0.8301,"color":"#fff"},{"offset":1,"color":"#fff"}]}},"encoding":{"x":{"field":"lo","type":"quantitative","scale":{"domain":[-0.952,43.882],"nice":false,"zero":false},"axis":null},"x2":{"field":"hi"},"y":{"field":"anySel","type":"quantitative","axis":null},"y2":{"field":"allSel"}}},
 {"transform":[{"filter":"datum.p=='a' && datum.anySel-datum.allSel==2"}],"mark":{"type":"bar","stroke":"black","strokeWidth":1.3,"fill":{"gradient":"linear","x1":0,"y1":0,"x2":1.0074,"y2":0.9925,"stops":[{"offset":0,"color":"#fff"},{"offset":0.1036,"color":"#fff"},{"offset":0.1036,"color":"#000"},{"offset":0.139,"color":"#000"},{"offset":0.139,"color":"#fff"},{"offset":0.3461,"color":"#fff"},{"offset":0.3461,"color":"#000"},{"offset":0.3815,"color":"#000"},{"offset":0.3815,"color":"#fff"},{"offset":0.5886,"color":"#fff"},{"offset":0.5886,"color":"#000"},{"offset":0.624,"color":"#000"},{"offset":0.624,"color":"#fff"},{"offset":0.8312,"color":"#fff"},{"offset":0.8312,"color":"#000"},{"offset":0.8666,"color":"#000"},{"offset":0.8666,"color":"#fff"},{"offset":1,"color":"#fff"}]}},"encoding":{"x":{"field":"lo","type":"quantitative","scale":{"domain":[-0.952,43.882],"nice":false,"zero":false},"axis":null},"x2":{"field":"hi"},"y":{"field":"anySel","type":"quantitative","axis":null},"y2":{"field":"allSel"}}},
 {"transform":[{"filter":"datum.p=='a' && datum.anySel-datum.allSel==3"}],"mark":{"type":"bar","stroke":"black","strokeWidth":1.3,"fill":{"gradient":"linear","x1":0,"y1":0,"x2":0.7782,"y2":1.15,"stops":[{"offset":0,"color":"#fff"},{"offset":0.083,"color":"#fff"},{"offset":0.083,"color":"#000"},{"offset":0.1114,"color":"#000"},{"offset":0.1114,"color":"#fff"},{"offset":0.2773,"color":"#fff"},{"offset":0.2773,"color":"#000"},{"offset":0.3057,"color":"#000"},{"offset":0.3057,"color":"#fff"},{"offset":0.4716,"color":"#fff"},{"offset":0.4716,"color":"#000"},{"offset":0.5,"color":"#000"},{"offset":0.5,"color":"#fff"},{"offset":0.6659,"color":"#fff"},{"offset":0.6659,"color":"#000"},{"offset":0.6943,"color":"#000"},{"offset":0.6943,"color":"#fff"},{"offset":0.8602,"color":"#fff"},{"offset":0.8602,"color":"#000"},{"offset":0.8886,"color":"#000"},{"offset":0.8886,"color":"#fff"},{"offset":1,"color":"#fff"}]}},"encoding":{"x":{"field":"lo","type":"quantitative","scale":{"domain":[-0.952,43.882],"nice":false,"zero":false},"axis":null},"x2":{"field":"hi"},"y":{"field":"anySel","type":"quantitative","axis":null},"y2":{"field":"allSel"}}},
 {"transform":[{"filter":"datum.p=='b' && datum.anySel-datum.allSel==1"}],"mark":{"type":"bar","stroke":"black","strokeWidth":1.3,"fill":{"gradient":"linear","x1":0,"y1":0,"x2":1.2011,"y2":0.5917,"stops":[{"offset":0,"color":"#fff"},{"offset":0.1377,"color":"#fff"},{"offset":0.1377,"color":"#000"},{"offset":0.1849,"color":"#000"},{"offset":0.1849,"color":"#fff"},{"offset":0.4603,"color":"#fff"},{"offset":0.4603,"color":"#000"},{"offset":0.5075,"color":"#000"},{"offset":0.5075,"color":"#fff"},{"offset":0.7829,"color":"#fff"},{"offset":0.7829,"color":"#000"},{"offset":0.8301,"color":"#000"},{"offset":0.8301,"color":"#fff"},{"offset":1,"color":"#fff"}]}},"encoding":{"x":{"field":"lo","type":"quantitative","scale":{"domain":[-11.084,8.695],"nice":false,"zero":false},"axis":null},"x2":{"field":"hi"},"y":{"field":"anySel","type":"quantitative","axis":null},"y2":{"field":"allSel"}}},
 {"transform":[{"filter":"datum.p=='b' && datum.anySel-datum.allSel==2"}],"mark":{"type":"bar","stroke":"black","strokeWidth":1.3,"fill":{"gradient":"linear","x1":0,"y1":0,"x2":1.0074,"y2":0.9925,"stops":[{"offset":0,"color":"#fff"},{"offset":0.1036,"color":"#fff"},{"offset":0.1036,"color":"#000"},{"offset":0.139,"color":"#000"},{"offset":0.139,"color":"#fff"},{"offset":0.3461,"color":"#fff"},{"offset":0.3461,"color":"#000"},{"offset":0.3815,"color":"#000"},{"offset":0.3815,"color":"#fff"},{"offset":0.5886,"color":"#fff"},{"offset":0.5886,"color":"#000"},{"offset":0.624,"color":"#000"},{"offset":0.624,"color":"#fff"},{"offset":0.8312,"color":"#fff"},{"offset":0.8312,"color":"#000"},{"offset":0.8666,"color":"#000"},{"offset":0.8666,"color":"#fff"},{"offset":1,"color":"#fff"}]}},"encoding":{"x":{"field":"lo","type":"quantitative","scale":{"domain":[-11.084,8.695],"nice":false,"zero":false},"axis":null},"x2":{"field":"hi"},"y":{"field":"anySel","type":"quantitative","axis":null},"y2":{"field":"allSel"}}},
 {"transform":[{"filter":"datum.p=='a' && datum.allSel>0"}],"mark":{"type":"bar","fill":"black","stroke":"black","strokeWidth":1},"encoding":{"x":{"field":"lo","type":"quantitative","scale":{"domain":[-0.952,43.882],"nice":false,"zero":false},"axis":null},"x2":{"field":"hi"},"y":{"field":"allSel","type":"quantitative","axis":null},"y2":{"datum":0}}},
 {"transform":[{"filter":"datum.p=='a'"}],"mark":{"type":"bar","fill":"transparent","stroke":"black","strokeWidth":2.5,"cornerRadius":1.5},"encoding":{"x":{"field":"lo","type":"quantitative","scale":{"domain":[-0.952,43.882],"nice":false,"zero":false},"axis":null},"x2":{"field":"hi"},"y":{"field":"count","type":"quantitative","axis":null},"y2":{"datum":0}}},
 {"transform":[{"filter":"datum.p=='b'"}],"mark":{"type":"bar","fill":"transparent","stroke":"black","strokeWidth":2.5,"cornerRadius":1.5},"encoding":{"x":{"field":"lo","type":"quantitative","scale":{"domain":[-11.084,8.695],"nice":false,"zero":false},"axis":null},"x2":{"field":"hi"},"y":{"field":"count","type":"quantitative","axis":null},"y2":{"datum":0}}},
 {"data":{"values":[{"row":"1661"}]},"mark":{"type":"rule","color":"black","strokeWidth":2},"encoding":{"y":{"datum":0,"axis":null}}},
 {"data":{"values":[{"row":"1661"}]},"mark":{"type":"rule","color":"black","strokeWidth":1.8},"encoding":{"x":{"datum":0.798,"type":"quantitative","scale":{"domain":[-11.084,8.695],"nice":false,"zero":false},"axis":null}}},
 {"data":{"values":[{"row":"1661","label":"1661"}]},"mark":{"type":"text","color":"black","fontSize":17,"font":"DejaVu Sans Mono"},"encoding":{"x":{"datum":21.97,"type":"quantitative","scale":{"domain":[-0.952,43.882],"nice":false,"zero":false},"axis":null},"y":{"datum":6.24,"axis":null},"text":{"field":"label"}}}
]},
{"width":804,"height":187,"data":{"name":"bars"},"transform":[{"filter":"datum.row=='1663'"}],"resolve":{"scale":{"x":"independent"}},"layer":[
 {"transform":[{"filter":"datum.p=='a'"}],"mark":{"type":"bar","fill":"white","strokeWidth":0},"encoding":{"x":{"field":"lo","type":"quantitative","scale":{"domain":[-0.952,43.882],"nice":false,"zero":false},"axis":null},"x2":{"field":"hi"},"y":{"field":"count","type":"quantitative","scale":{"domain":[0,14.06],"nice":false},"axis":null},"y2":{"datum":0}}},
 {"transform":[{"filter":"datum.p=='b'"}],"mark":{"type":"bar","fill":"white","strokeWidth":0},"encoding":{"x":{"field":"lo","type":"quantitative","scale":{"domain":[-11.084,8.695],"nice":false,"zero":false},"axis":null},"x2":{"field":"hi"},"y":{"field":"count","type":"quantitative","axis":null},"y2":{"datum":0}}},
 {"transform":[{"filter":"datum.p=='a' && datum.anySel-datum.allSel==1"}],"mark":{"type":"bar","stroke":"black","strokeWidth":1.3,"fill":{"gradient":"linear","x1":0,"y1":0,"x2":1.2011,"y2":0.5917,"stops":[{"offset":0,"color":"#fff"},{"offset":0.1377,"color":"#fff"},{"offset":0.1377,"color":"#000"},{"offset":0.1849,"color":"#000"},{"offset":0.1849,"color":"#fff"},{"offset":0.4603,"color":"#fff"},{"offset":0.4603,"color":"#000"},{"offset":0.5075,"color":"#000"},{"offset":0.5075,"color":"#fff"},{"offset":0.7829,"color":"#fff"},{"offset":0.7829,"color":"#000"},{"offset":0.8301,"color":"#000"},{"offset":0.8301,"color":"#fff"},{"offset":1,"color":"#fff"}]}},"encoding":{"x":{"field":"lo","type":"quantitative","scale":{"domain":[-0.952,43.882],"nice":false,"zero":false},"axis":null},"x2":{"field":"hi"},"y":{"field":"anySel","type":"quantitative","axis":null},"y2":{"field":"allSel"}}},
 {"transform":[{"filter":"datum.p=='b' && datum.anySel-datum.allSel==1"}],"mark":{"type":"bar","stroke":"black","strokeWidth":1.3,"fill":{"gradient":"linear","x1":0,"y1":0,"x2":1.2011,"y2":0.5917,"stops":[{"offset":0,"color":"#fff"},{"offset":0.1377,"color":"#fff"},{"offset":0.1377,"color":"#000"},{"offset":0.1849,"color":"#000"},{"offset":0.1849,"color":"#fff"},{"offset":0.4603,"color":"#fff"},{"offset":0.4603,"color":"#000"},{"offset":0.5075,"color":"#000"},{"offset":0.5075,"color":"#fff"},{"offset":0.7829,"color":"#fff"},{"offset":0.7829,"color":"#000"},{"offset":0.8301,"color":"#000"},{"offset":0.8301,"color":"#fff"},{"offset":1,"color":"#fff"}]}},"encoding":{"x":{"field":"lo","type":"quantitative","scale":{"domain":[-11.084,8.695],"nice":false,"zero":false},"axis":null},"x2":{"field":"hi"},"y":{"field":"anySel","type":"quantitative","axis":null},"y2":{"field":"allSel"}}},
 {"transform":[{"filter":"datum.p=='b' && datum.anySel-datum.allSel==2"}],"mark":{"type":"bar","stroke":"black","strokeWidth":1.3,"fill":{"gradient":"linear","x1":0,"y1":0,"x2":1.0074,"y2":0.9925,"stops":[{"offset":0,"color":"#fff"},{"offset":0.1036,"color":"#fff"},{"offset":0.1036,"color":"#000"},{"offset":0.139,"color":"#000"},{"offset":0.139,"color":"#fff"},{"offset":0.3461,"color":"#fff"},{"offset":0.3461,"color":"#000"},{"offset":0.3815,"color":"#000"},{"offset":0.3815,"color":"#fff"},{"offset":0.5886,"color":"#fff"},{"offset":0.5886,"color":"#000"},{"offset":0.624,"color":"#000"},{"offset":0.624,"color":"#fff"},{"offset":0.8312,"color":"#fff"},{"offset":0.8312,"color":"#000"},{"offset":0.8666,"color":"#000"},{"offset":0.8666,"color":"#fff"},{"offset":1,"color":"#fff"}]}},"encoding":{"x":{"field":"lo","type":"quantitative","scale":{"domain":[-11.084,8.695],"nice":false,"zero":false},"axis":null},"x2":{"field":"hi"},"y":{"field":"anySel","type":"quantitative","axis":null},"y2":{"field":"allSel"}}},
 {"transform":[{"filter":"datum.p=='a'"}],"mark":{"type":"bar","fill":"transparent","stroke":"black","strokeWidth":2.5,"cornerRadius":1.5},"encoding":{"x":{"field":"lo","type":"quantitative","scale":{"domain":[-0.952,43.882],"nice":false,"zero":false},"axis":null},"x2":{"field":"hi"},"y":{"field":"count","type":"quantitative","axis":null},"y2":{"datum":0}}},
 {"transform":[{"filter":"datum.p=='b'"}],"mark":{"type":"bar","fill":"transparent","stroke":"black","strokeWidth":2.5,"cornerRadius":1.5},"encoding":{"x":{"field":"lo","type":"quantitative","scale":{"domain":[-11.084,8.695],"nice":false,"zero":false},"axis":null},"x2":{"field":"hi"},"y":{"field":"count","type":"quantitative","axis":null},"y2":{"datum":0}}},
 {"data":{"values":[{"row":"1663"}]},"mark":{"type":"rule","color":"black","strokeWidth":2},"encoding":{"y":{"datum":0,"axis":null}}},
 {"data":{"values":[{"row":"1663"}]},"mark":{"type":"rule","color":"black","strokeWidth":1.8},"encoding":{"x":{"datum":0.798,"type":"quantitative","scale":{"domain":[-11.084,8.695],"nice":false,"zero":false},"axis":null}}},
 {"data":{"values":[{"row":"1663","label":"1663"}]},"mark":{"type":"text","color":"black","fontSize":17,"font":"DejaVu Sans Mono"},"encoding":{"x":{"datum":21.97,"type":"quantitative","scale":{"domain":[-0.952,43.882],"nice":false,"zero":false},"axis":null},"y":{"datum":6.4,"axis":null},"text":{"field":"label"}}}
]},
{"width":804,"height":238,"data":{"name":"bars"},"transform":[{"filter":"datum.row=='1664'"}],"resolve":{"scale":{"x":"independent"}},"layer":[
 {"transform":[{"filter":"datum.p=='a'"}],"mark":{"type":"bar","fill":"white","strokeWidth":0},"encoding":{"x":{"field":"lo","type":"quantitative","scale":{"domain":[-0.952,43.882],"nice":false,"zero":false},"axis":null},"x2":{"field":"hi"},"y":{"field":"count","type":"quantitative","scale":{"domain":[0,17.895],"nice":false},"axis":null},"y2":{"datum":0}}},
 {"transform":[{"filter":"datum.p=='b'"}],"mark":{"type":"bar","fill":"white","strokeWidth":0},"encoding":{"x":{"field":"lo","type":"quantitative","scale":{"domain":[-11.084,8.695],"nice":false,"zero":false},"axis":null},"x2":{"field":"hi"},"y":{"field":"count","type":"quantitative","axis":null},"y2":{"datum":0}}},
 {"transform":[{"filter":"datum.p=='a' && datum.anySel-datum.allSel==1"}],"mark":{"type":"bar","stroke":"black","strokeWidth":1.3,"fill":{"gradient":"linear","x1":0,"y1":0,"x2":1.2011,"y2":0.5917,"stops":[{"offset":0,"color":"#fff"},{"offset":0.1377,"color":"#fff"},{"offset":0.1377,"color":"#000"},{"offset":0.1849,"color":"#000"},{"offset":0.1849,"color":"#fff"},{"offset":0.4603,"color":"#fff"},{"offset":0.4603,"color":"#000"},{"offset":0.5075,"color":"#000"},{"offset":0.5075,"color":"#fff"},{"offset":0.7829,"color":"#fff"},{"offset":0.7829,"color":"#000"},{"offset":0.8301,"color":"#000"},{"offset":0.8301,"color":"#fff"},{"offset":1,"color":"#fff"}]}},"encoding":{"x":{"field":"lo","type":"quantitative","scale":{"domain":[-0.952,43.882],"nice":false,"zero":false},"axis":null},"x2":{"field":"hi"},"y":{"field":"anySel","type":"quantitative","axis":null},"y2":{"field":"allSel"}}},
 {"transform":[{"filter":"datum.p=='a' && datum.anySel-datum.allSel==2"}],"mark":{"type":"bar","stroke":"black","strokeWidth":1.3,"fill":{"gradient":"linear","x1":0,"y1":0,"x2":1.0074,"y2":0.9925,"stops":[{"offset":0,"color":"#fff"},{"offset":0.1036,"color":"#fff"},{"offset":0.1036,"color":"#000"},{"offset":0.139,"color":"#000"},{"offset":0.139,"color":"#fff"},{"offset":0.3461,"color":"#fff"},{"offset":0.3461,"color":"#000"},{"offset":0.3815,"color":"#000"},{"offset":0.3815,"color":"#fff"},{"offset":0.5886,"color":"#fff"},{"offset":0.5886,"color":"#000"},{"offset":0.624,"color":"#000"},{"offset":0.624,"color":"#fff"},{"offset":0.8312,"color":"#fff"},{"offset":0.8312,"color":"#000"},{"offset":0.8666,"color":"#000"},{"offset":0.8666,"color":"#fff"},{"offset":1,"color":"#fff"}]}},"encoding":{"x":{"field":"lo","type":"quantitative","scale":{"domain":[-0.952,43.882],"nice":false,"zero":false},"axis":null},"x2":{"field":"hi"},"y":{"field":"anySel","type":"quantitative","axis":null},"y2":{"field":"allSel"}}},
 {"transform":[{"filter":"datum.p=='a' && datum.anySel-datum.allSel==4"}],"mark":{"type":"bar","stroke":"black","strokeWidth":1.3,"fill":{"gradient":"linear","x1":0,"y1":0,"x2":0.6084,"y2":1.1988,"stops":[{"offset":0,"color":"#fff"},{"offset":0.0692,"color":"#fff"},{"offset":0.0692,"color":"#000"},{"offset":0.0928,"color":"#000"},{"offset":0.0928,"color":"#fff"},{"offset":0.2313,"color":"#fff"},{"offset":0.2313,"color":"#000"},{"offset":0.2549,"color":"#000"},{"offset":0.2549,"color":"#fff"},{"offset":0.3934,"color":"#fff"},{"offset":0.3934,"color":"#000"},{"offset":0.417,"color":"#000"},{"offset":0.417,"color":"#fff"},{"offset":0.5555,"color":"#fff"},{"offset":0.5555,"color":"#000"},{"offset":0.5791,"color":"#000"},{"offset":0.5791,"color":"#fff"},{"offset":0.7176,"color":"#fff"},{"offset":0.7176,"color":"#000"},{"offset":0.7412,"color":"#000"},{"offset":0.7412,"color":"#fff"},{"offset":0.8797,"color":"#fff"},{"offset":0.8797,"color":"#000"},{"offset":0.9033,"color":"#000"},{"offset":0.9033,"color":"#fff"},{"offset":1,"color":"#fff"}]}},"encoding":{"x":{"field":"lo","type":"quantitative","scale":{"domain":[-0.952,43.882],"nice":false,"zero":false},"axis":null},"x2":{"field":"hi"},"y":{"field":"anySel","type":"quantitative","axis":null},"y2":{"field":"allSel"}}},
 {"transform":[{"filter":"datum.p=='b' && datum.anySel-datum.allSel==2"}],"mark":{"type":"bar","stroke":"black","strokeWidth":1.3,"fill":{"gradient":"linear","x1":0,"y1":0,"x2":1.0074,"y2":0.9925,"stops":[{"offset":0,"color":"#fff"},{"offset":0.1036,"color":"#fff"},{"offset":0.1036,"color":"#000"},{"offset":0.139,"color":"#000"},{"offset":0.139,"color":"#fff"},{"offset":0.3461,"color":"#fff"},{"offset":0.3461,"color":"#000"},{"offset":0.3815,"color":"#000"},{"offset":0.3815,"color":"#fff"},{"offset":0.5886,"color":"#fff"},{"offset":0.5886,"color":"#000"},{"offset":0.624,"color":"#000"},{"offset":0.624,"color":"#fff"},{"offset":0.8312,"color":"#fff"},{"offset":0.8312,"color":"#000"},{"offset":0.8666,"color":"#000"},{"offset":0.8666,"color":"#fff"},{"offset":1,"color":"#fff"}]}},"encoding":{"x":{"field":"lo","type":"quantitative","scale":{"domain":[-11.084,8.695],"nice":false,"zero":false},"axis":null},"x2":{"field":"hi"},"y":{"field":"anySel","type":"quantitative","axis":null},"y2":{"field":"allSel"}}},
 {"transform":[{"filter":"datum.p=='b' && datum.anySel-datum.allSel==3"}],"mark":{"type":"bar","stroke":"black","strokeWidth":1.3,"fill":{"gradient":"linear","x1":0,"y1":0,"x2":0.7782,"y2":1.15,"stops":[{"offset":0,"color":"#fff"},{"offset":0.083,"color":"#fff"},{"offset":0.083,"color":"#000"},{"offset":0.1114,"color":"#000"},{"offset":0.1114,"color":"#fff"},{"offset":0.2773,"color":"#fff"},{"offset":0.2773,"color":"#000"},{"offset":0.3057,"color":"#000"},{"offset":0.3057,"color":"#fff"},{"offset":0.4716,"color":"#fff"},{"offset":0.4716,"color":"#000"},{"offset":0.5,"color":"#000"},{"offset":0.5,"color":"#fff"},{"offset":0.6659,"color":"#fff"},{"offset":0.6659,"color":"#000"},{"offset":0.6943,"color":"#000"},{"offset":0.6943,"color":"#fff"},{"offset":0.8602,"color":"#fff"},{"offset":0.8602,"color":"#000"},{"offset":0.8886,"color":"#000"},{"offset":0.8886,"color":"#fff"},{"offset":1,"color":"#fff"}]}},"encoding":{"x":{"field":"lo","type":"quantitative","scale":{"domain":[-11.084,8.695],"nice":false,"zero":false},"axis":null},"x2":{"field":"hi"},"y":{"field":"anySel","type":"quantitative","axis":null},"y2":{"field":"allSel"}}},
 {"transform":[{"filter":"datum.p=='b' && datum.anySel-datum.allSel==5"}],"mark":{"type":"bar","stroke":"black","strokeWidth":1.3,"fill":{"gradient":"linear","x1":0,"y1":0,"x2":0.4901,"y2":1.2071,"stops":[{"offset":0,"color":"#fff"},{"offset":0.0593,"color":"#fff"},{"offset":0.0593,"color":"#000"},{"offset":0.0797,"color":"#000"},{"offset":0.0797,"color":"#fff"},{"offset":0.1983,"color":"#fff"},{"offset":0.1983,"color":"#000"},{"offset":0.2187,"color":"#000"},{"offset":0.2187,"color":"#fff"},{"offset":0.3373,"color":"#fff"},{"offset":0.3373,"color":"#000"},{"offset":0.3577,"color":"#000"},{"offset":0.3577,"color":"#fff"},{"offset":0.4763,"color":"#fff"},{"offset":0.4763,"color":"#000"},{"offset":0.4967,"color":"#000"},{"offset":0.4967,"color":"#fff"},{"offset":0.6153,"color":"#fff"},{"offset":0.6153,"color":"#000"},{"offset":0.6357,"color":"#000"},{"offset":0.6357,"color":"#fff"},{"offset":0.7543,"color":"#fff"},{"offset":0.7543,"color":"#000"},{"offset":0.7747,"color":"#000"},{"offset":0.7747,"color":"#fff"},{"offset":0.8933,"color":"#fff"},{"offset":0.8933,"color":"#000"},{"offset":0.9137,"color":"#000"},{"offset":0.9137,"color":"#fff"},{"offset":1,"color":"#fff"}]}},"encoding":{"x":{"field":"lo","type":"quantitative","scale":{"domain":[-11.084,8.695],"nice":false,"zero":false},"axis":null},"x2":{"field":"hi"},"y":{"field":"anySel","type":"quantitative","axis":null},"y2":{"field":"allSel"}}},
 {"transform":[{"filter":"datum.p=='b' && datum.anySel-datum.allSel==7"}],"mark":{"type":"bar","stroke":"black","strokeWidth":1.3,"fill":{"gradient":"linear","x1":0,"y1":0,"x2":0.3451,"y2":1.19,"stops":[{"offset":0,"color":"#fff"},{"offset":0.0462,"color":"#fff"},{"offset":0.0462,"color":"#000"},{"offset":0.062,"color":"#000"},{"offset":0.062,"color":"#fff"},{"offset":0.1544,"color":"#fff"},{"offset":0.1544,"color":"#000"},{"offset":0.1702,"color":"#000"},{"offset":0.1702,"color":"#fff"},{"offset":0.2626,"color":"#fff"},{"offset":0.2626,"color":"#000"},{"offset":0.2784,"color":"#000"},{"offset":0.2784,"color":"#fff"},{"offset":0.3708,"color":"#fff"},{"offset":0.3708,"color":"#000"},{"offset":0.3866,"color":"#000"},{"offset":0.3866,"color":"#fff"},{"offset":0.479,"color":"#fff"},{"offset":0.479,"color":"#000"},{"offset":0.4948,"color":"#000"},{"offset":0.4948,"color":"#fff"},{"offset":0.5872,"color":"#fff"},{"offset":0.5872,"color":"#000"},{"offset":0.603,"color":"#000"},{"offset":0.603,"color":"#fff"},{"offset":0.6954,"color":"#fff"},{"offset":0.6954,"color":"#000"},{"offset":0.7112,"color":"#000"},{"offset":0.7112,"color":"#fff"},{"offset":0.8036,"color":"#fff"},{"offset":0.8036,"color":"#000"},{"offset":0.8194,"color":"#000"},{"offset":0.8194,"color":"#fff"},{"offset":0.9118,"color":"#fff"},{"offset":0.9118,"color":"#000"},{"offset":0.9276,"color":"#000"},{"offset":0.9276,"color":"#fff"},{"offset":1,"color":"#fff"}]}},"encoding":{"x":{"field":"lo","type":"quantitative","scale":{"domain":[-11.084,8.695],"nice":false,"zero":false},"axis":null},"x2":{"field":"hi"},"y":{"field":"anySel","type":"quantitative","axis":null},"y2":{"field":"allSel"}}},
 {"transform":[{"filter":"datum.p=='a' && datum.allSel>0"}],"mark":{"type":"bar","fill":"black","stroke":"black","strokeWidth":1},"encoding":{"x":{"field":"lo","type":"quantitative","scale":{"domain":[-0.952,43.882],"nice":false,"zero":false},"axis":null},"x2":{"field":"hi"},"y":{"field":"allSel","type":"quantitative","axis":null},"y2":{"datum":0}}},
 {"transform":[{"filter":"datum.p=='b' && datum.allSel>0"}],"mark":{"type":"bar","fill":"black","stroke":"black","strokeWidth":1},"encoding":{"x":{"field":"lo","type":"quantitative","scale":{"domain":[-11.084,8.695],"nice":false,"zero":false},"axis":null},"x2":{"field":"hi"},"y":{"field":"allSel","type":"quantitative","axis":null},"y2":{"datum":0}}},
 {"transform":[{"filter":"datum.p=='a'"}],"mark":{"type":"bar","fill":"transparent","stroke":"black","strokeWidth":2.5,"cornerRadius":1.5},"encoding":{"x":{"field":"lo","type":"quantitative","scale":{"domain":[-0.952,43.882],"nice":false,"zero":false},"axis":null},"x2":{"field":"hi"},"y":{"field":"count","type":"quantitative","axis":null},"y2":{"datum":0}}},
 {"transform":[{"filter":"datum.p=='b'"}],"mark":{"type":"bar","fill":"transparent","stroke":"black","strokeWidth":2.5,"cornerRadius":1.5},"encoding":{"x":{"field":"lo","type":"quantitative","scale":{"domain":[-11.084,8.695],"nice":false,"zero":false},"axis":null},"x2":{"field":"hi"},"y":{"field":"count","type":"quantitative","axis":null},"y2":{"datum":0}}},
 {"data":{"values":[{"row":"1664"}]},"mark":{"type":"rule","color":"black","strokeWidth":2},"encoding":{"y":{"datum":0,"axis":null}}},
 {"data":{"values":[{"row":"1664"}]},"mark":{"type":"rule","color":"black","strokeWidth":1.8},"encoding":{"x":{"datum":0.798,"type":"quantitative","scale":{"domain":[-11.084,8.695],"nice":false,"zero":false},"axis":null}}},
 {"data":{"values":[{"row":"1664","label":"1664"}]},"mark":{"type":"text","color":"black","fontSize":17,"font":"DejaVu Sans Mono"},"encoding":{"x":{"datum":21.97,"type":"quantitative","scale":{"domain":[-0.952,43.882],"nice":false,"zero":false},"axis":null},"y":{"datum":6.39,"axis":null},"text":{"field":"label"}}}
]},
{"width":804,"height":159,"data":{"name":"bars"},"transform":[{"filter":"datum.row=='CROSS-7'"}],"resolve":{"scale":{"x":"independent"}},"layer":[
 {"transform":[{"filter":"datum.p=='a'"}],"mark":{"type":"bar","fill":"white","stroke":"black","strokeWidth":2.5,"cornerRadius":1.5},"encoding":{"x":{"field":"lo","type":"quantitative","scale":{"domain":[-0.952,43.882],"nice":false,"zero":false},"axis":null},"x2":{"field":"hi"},"y":{"field":"count","type":"quantitative","scale":{"domain":[0,11.955],"nice":false},"axis":null},"y2":{"datum":0}}},
 {"transform":[{"filter":"datum.p=='b'"}],"mark":{"type":"bar","fill":"white","stroke":"black","strokeWidth":2.5,"cornerRadius":1.5},"encoding":{"x":{"field":"lo","type":"quantitative","scale":{"domain":[-11.084,8.695],"nice":false,"zero":false},"axis":null},"x2":{"field":"hi"},"y":{"field":"count","type":"quantitative","axis":null},"y2":{"datum":0}}},
 {"data":{"values":[{"row":"CROSS-7"}]},"mark":{"type":"rule","color":"black","strokeWidth":2},"encoding":{"y":{"datum":0,"axis":null}}},
 {"data":{"values":[{"row":"CROSS-7"}]},"mark":{"type":"rule","color":"black","strokeWidth":1.8},"encoding":{"x":{"datum":0.798,"type":"quantitative","scale":{"domain":[-11.084,8.695],"nice":false,"zero":false},"axis":null}}},
 {"data":{"values":[{"row":"CROSS-7","label":"CROSS·7"}]},"mark":{"type":"text","color":"black","fontSize":16,"font":"DejaVu Sans Mono"},"encoding":{"x":{"datum":22.25,"type":"quantitative","scale":{"domain":[-0.952,43.882],"nice":false,"zero":false},"axis":null},"y":{"datum":8.05,"axis":null},"text":{"field":"label"}}}
]},
{"width":804,"height":105,"data":{"name":"bars"},"transform":[{"filter":"datum.row=='TAINUI'"}],"resolve":{"scale":{"x":"independent"},"axis":{"x":"independent"}},"layer":[
 {"transform":[{"filter":"datum.p=='a'"}],"mark":{"type":"bar","fill":"white","stroke":"black","strokeWidth":2.5,"cornerRadius":1.5},"encoding":{"x":{"field":"lo","type":"quantitative","scale":{"domain":[-0.952,43.882],"nice":false,"zero":false},"axis":{"orient":"bottom","values":[1,3,5,7,9,11,13,15],"labelExpr":"datum.value==3?'3•':datum.value==13?'13·':datum.value==15?'15g.':datum.label","domain":false,"ticks":false,"grid":false,"labelPadding":15,"labelFontSize":13,"labelFont":"DejaVu Sans Mono","labelColor":"black","labelFlush":false,"labelOverlap":false,"title":"Yield per plant","titleX":254,"titleFontSize":16,"titleFont":"DejaVu Sans Mono","titleFontWeight":"normal","titleColor":"black","titlePadding":5}},"x2":{"field":"hi"},"y":{"field":"count","type":"quantitative","scale":{"domain":[0,7.895],"nice":false},"axis":null},"y2":{"datum":0}}},
 {"transform":[{"filter":"datum.p=='b'"}],"mark":{"type":"bar","fill":"white","stroke":"black","strokeWidth":2.5,"cornerRadius":1.5},"encoding":{"x":{"field":"lo","type":"quantitative","scale":{"domain":[-11.084,8.695],"nice":false,"zero":false},"axis":{"orient":"bottom","values":[1,2,3,4,5,6],"labelExpr":"datum.value==6?'6g.':datum.label","domain":false,"ticks":false,"grid":false,"labelPadding":15,"labelFontSize":13,"labelFont":"DejaVu Sans Mono","labelColor":"black","labelFlush":false,"labelOverlap":false,"title":"Mean yield per plant","titleX":663,"titleFontSize":16,"titleFont":"DejaVu Sans Mono","titleFontWeight":"normal","titleColor":"black","titlePadding":5}},"x2":{"field":"hi"},"y":{"field":"count","type":"quantitative","axis":null},"y2":{"datum":0}}},
 {"data":{"values":[{"row":"TAINUI"}]},"mark":{"type":"rule","color":"black","strokeWidth":2},"encoding":{"y":{"datum":0,"axis":null}}},
 {"data":{"values":[{"row":"TAINUI"}]},"mark":{"type":"rule","color":"black","strokeWidth":1.8},"encoding":{"x":{"datum":0.798,"type":"quantitative","scale":{"domain":[-11.084,8.695],"nice":false,"zero":false},"axis":null}}},
 {"data":{"values":[{"row":"TAINUI","label":"TAINUI"}]},"mark":{"type":"text","color":"black","fontSize":16,"font":"DejaVu Sans Mono"},"encoding":{"x":{"datum":22.64,"type":"quantitative","scale":{"domain":[-0.952,43.882],"nice":false,"zero":false},"axis":null},"y":{"datum":6.32,"axis":null},"text":{"field":"label"}}}
]},
{"width":804,"height":137,"data":{"values":[{}]},"layer":[
  {"mark":{"type":"rect","stroke":"black","strokeWidth":1.8,"cornerRadius":2,"fill":{"gradient":"linear","x1":0,"y1":0,"x2":1.2011,"y2":0.5917,"stops":[{"offset":0,"color":"#fff"},{"offset":0.1377,"color":"#fff"},{"offset":0.1377,"color":"#000"},{"offset":0.1849,"color":"#000"},{"offset":0.1849,"color":"#fff"},{"offset":0.4603,"color":"#fff"},{"offset":0.4603,"color":"#000"},{"offset":0.5075,"color":"#000"},{"offset":0.5075,"color":"#fff"},{"offset":0.7829,"color":"#fff"},{"offset":0.7829,"color":"#000"},{"offset":0.8301,"color":"#000"},{"offset":0.8301,"color":"#fff"},{"offset":1,"color":"#fff"}]}},"encoding":{"x":{"datum":10.436,"type":"quantitative","scale":{"domain":[-0.27,29.618],"nice":false,"zero":false},"axis":null},"x2":{"datum":11.403},"y":{"datum":3.31,"type":"quantitative","scale":{"domain":[0,10.3],"nice":false},"axis":null},"y2":{"datum":4.06}}},
  {"mark":{"type":"rect","fill":"black","stroke":"black","strokeWidth":1.8,"cornerRadius":2},"encoding":{"x":{"datum":10.436,"type":"quantitative","axis":null},"x2":{"datum":11.403},"y":{"datum":1.65,"type":"quantitative","axis":null},"y2":{"datum":2.41}}},
  {"mark":{"type":"text","text":"Selected by any observer.","fontSize":16,"font":"DejaVu Sans Mono","align":"left","baseline":"middle","color":"black"},"encoding":{"x":{"datum":11.81,"type":"quantitative","axis":null},"y":{"datum":3.68,"type":"quantitative","axis":null}}},
  {"mark":{"type":"text","text":"•","fontSize":9,"font":"DejaVu Sans","align":"center","baseline":"middle","color":"black"},"encoding":{"x":{"datum":14.0,"type":"quantitative","axis":null},"y":{"datum":1.95,"type":"quantitative","axis":null}}},
  {"mark":{"type":"text","text":"•","fontSize":9,"font":"DejaVu Sans","align":"center","baseline":"middle","color":"black"},"encoding":{"x":{"datum":19.06,"type":"quantitative","axis":null},"y":{"datum":1.95,"type":"quantitative","axis":null}}},
  {"mark":{"type":"text","text":"all observers.","fontSize":16,"font":"DejaVu Sans Mono","align":"left","baseline":"middle","color":"black"},"encoding":{"x":{"datum":19.77,"type":"quantitative","axis":null},"y":{"datum":2.03,"type":"quantitative","axis":null}}}
]}
]
}
